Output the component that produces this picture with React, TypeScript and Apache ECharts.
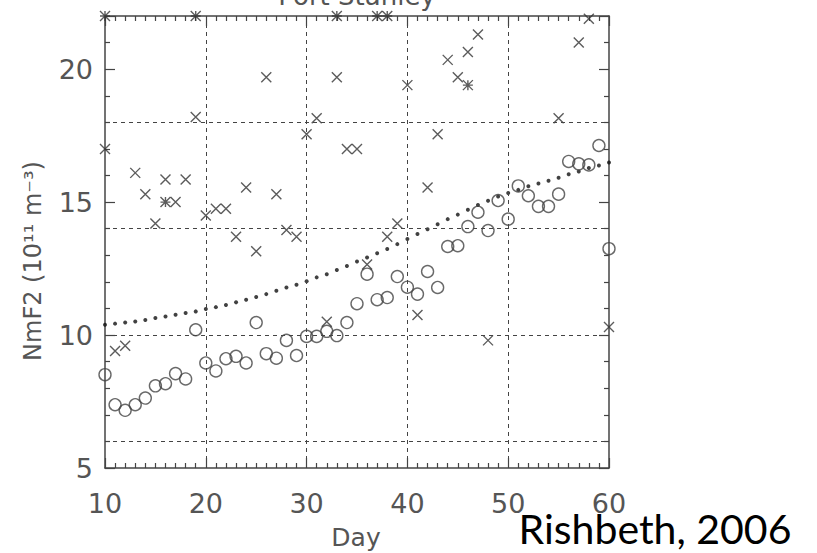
import React, { useEffect, useRef } from "react";
import * as echarts from "echarts";

// Day numbers and values (NmF2, 10^11 m^-3)
const crossDays = [10, 11, 12, 13, 14, 15, 16, 17, 18, 19, 20, 21, 22, 23, 24, 25, 26, 27, 28, 29, 30, 31, 32, 33, 34, 35, 36, 38, 39, 40, 41, 42, 43, 44, 45, 46, 47, 48, 55, 57, 58, 60];
const crossValues = [17.0, 9.4, 9.6, 16.1, 15.3, 14.2, 15.85, 15.0, 15.85, 18.2, 14.5, 14.75, 14.75, 13.7, 15.55, 13.15, 19.7, 15.3, 13.95, 13.7, 17.55, 18.15, 10.5, 19.7, 17.0, 17.0, 12.65, 13.7, 14.2, 19.4, 10.75, 15.55, 17.55, 20.35, 19.7, 20.65, 21.3, 9.8, 18.15, 21.0, 21.9, 10.3];

const starDays = [10, 19, 33, 37, 38, 16, 46];
const starValues = [22, 22, 22, 22, 22, 15.0, 19.4];

const circleDays = [10, 11, 12, 13, 14, 15, 16, 17, 18, 19, 20, 21, 22, 23, 24, 25, 26, 27, 28, 29, 30, 31, 32, 33, 34, 35, 36, 37, 38, 39, 40, 41, 42, 43, 44, 45, 46, 47, 48, 49, 50, 51, 52, 53, 54, 55, 56, 57, 58, 59, 60];
const circleValues = [8.51, 7.38, 7.17, 7.38, 7.63, 8.09, 8.17, 8.55, 8.35, 10.2, 8.95, 8.65, 9.11, 9.2, 8.95, 10.47, 9.3, 9.13, 9.8, 9.23, 9.95, 9.95, 10.14, 9.98, 10.47, 11.18, 12.29, 11.33, 11.41, 12.2, 11.8, 11.54, 12.39, 11.79, 13.33, 13.36, 14.08, 14.62, 13.93, 15.06, 14.36, 15.61, 15.24, 14.84, 14.84, 15.3, 16.53, 16.44, 16.4, 17.13, 13.25];

const curveDays = circleDays;
const curveValues = [10.39, 10.43, 10.47, 10.51, 10.57, 10.64, 10.7, 10.76, 10.83, 10.89, 10.98, 11.05, 11.13, 11.23, 11.33, 11.43, 11.54, 11.67, 11.79, 11.89, 12.02, 12.17, 12.29, 12.45, 12.6, 12.77, 12.92, 13.08, 13.24, 13.42, 13.61, 13.8, 13.98, 14.17, 14.36, 14.53, 14.71, 14.89, 15.05, 15.21, 15.34, 15.46, 15.6, 15.7, 15.8, 15.92, 16.05, 16.15, 16.28, 16.38, 16.49];

const gridX = [20, 30, 40, 50];
const gridY = [6, 10, 14, 18];

const pair = (xs: number[], ys: number[]) => xs.map((x, i) => [x, ys[i]]);

export default function App() {
  const ref = useRef<HTMLDivElement>(null);
  useEffect(() => {
    if (!ref.current) return;
    const chart = echarts.init(ref.current, null, { renderer: "svg" });
    const axisColor = "#444";
    const labelFont = { fontFamily: "DejaVu Sans", fontSize: 27, color: "#555" };
    const mkX = (pos: "bottom" | "top", labels: boolean) => ({
      type: "value",
      position: pos,
      min: 10,
      max: 60,
      interval: 10,
      axisLine: { show: true, onZero: false, lineStyle: { color: axisColor, width: 1.5 } },
      axisTick: { show: true, inside: true, length: 10, lineStyle: { color: axisColor, width: 1.2 } },
      minorTick: { show: true, splitNumber: 10, length: 5, lineStyle: { color: axisColor, width: 1.2 } },
      splitLine: { show: false },
      axisLabel: { show: labels, margin: 22, ...labelFont },
    });
    const mkY = (pos: "left" | "right", labels: boolean) => ({
      type: "value",
      position: pos,
      min: 5,
      max: 22,
      interval: 5,
      axisLine: { show: true, onZero: false, lineStyle: { color: axisColor, width: 1.5 } },
      axisTick: { show: true, inside: true, length: 10, lineStyle: { color: axisColor, width: 1.2 } },
      minorTick: { show: true, splitNumber: 5, length: 5, lineStyle: { color: axisColor, width: 1.2 } },
      splitLine: { show: false },
      axisLabel: { show: labels, margin: 12, showMaxLabel: false, ...labelFont },
    });
    const crossPath = "path://M0 0L10 10M10 0L0 10";
    const starPath = "path://M0 0L10 10M10 0L0 10M5 0L5 10M0 5L10 5";
    chart.setOption({
      animation: false,
      backgroundColor: "#fff",
      grid: { left: 105, right: 208, top: 16, bottom: 85, containLabel: false },
      xAxis: [mkX("bottom", true), mkX("top", false)],
      yAxis: [mkY("left", true), mkY("right", false)],
      series: [
        {
          type: "scatter",
          name: "model",
          data: pair(curveDays, curveValues),
          symbol: "circle",
          symbolSize: 4,
          itemStyle: { color: "#111" },
          markLine: {
            silent: true,
            symbol: ["none", "none"],
            label: { show: false },
            lineStyle: { type: [4, 4], color: "#444", width: 1 },
            data: [...gridX.map((v) => ({ xAxis: v })), ...gridY.map((v) => ({ yAxis: v }))],
          },
        },
        {
          type: "scatter",
          name: "quiet",
          data: pair(circleDays, circleValues),
          symbol: "circle",
          symbolSize: 12,
          itemStyle: { color: "rgba(0,0,0,0)", borderColor: "#444", borderWidth: 1.4 },
        },
        {
          type: "scatter",
          name: "disturbed",
          data: pair(crossDays, crossValues),
          symbol: crossPath,
          symbolSize: 10,
          itemStyle: { color: "none", borderColor: "#333", borderWidth: 1.4 },
        },
        {
          type: "scatter",
          name: "clipped",
          data: pair(starDays, starValues),
          symbol: starPath,
          symbolSize: 10,
          itemStyle: { color: "none", borderColor: "#333", borderWidth: 1.4 },
        },
      ],
      graphic: [
        {
          type: "text",
          x: 357,
          y: -4,
          style: { text: "Port Stanley", fontFamily: "DejaVu Sans", fontSize: 26, fill: "#555", align: "center", verticalAlign: "middle" },
        },
        {
          type: "text",
          x: 33,
          y: 261,
          rotation: Math.PI / 2,
          style: { text: "NmF2 (10¹¹ m⁻³)", fontFamily: "DejaVu Sans", fontSize: 24, fill: "#555", align: "center", verticalAlign: "middle" },
        },
        {
          type: "text",
          x: 356,
          y: 537,
          style: { text: "Day", fontFamily: "DejaVu Sans", fontSize: 25, fill: "#555", align: "center", verticalAlign: "middle" },
        },
        {
          type: "text",
          x: 655,
          y: 528,
          style: { text: "Rishbeth, 2006", fontFamily: "Lato", fontSize: 41, fill: "#000", align: "center", verticalAlign: "middle" },
        },
      ],
    });
    return () => chart.dispose();
  }, []);
  return <div ref={ref} style={{ width: 817, height: 553, position: "absolute", left: 0, top: 0 }} />;
}
